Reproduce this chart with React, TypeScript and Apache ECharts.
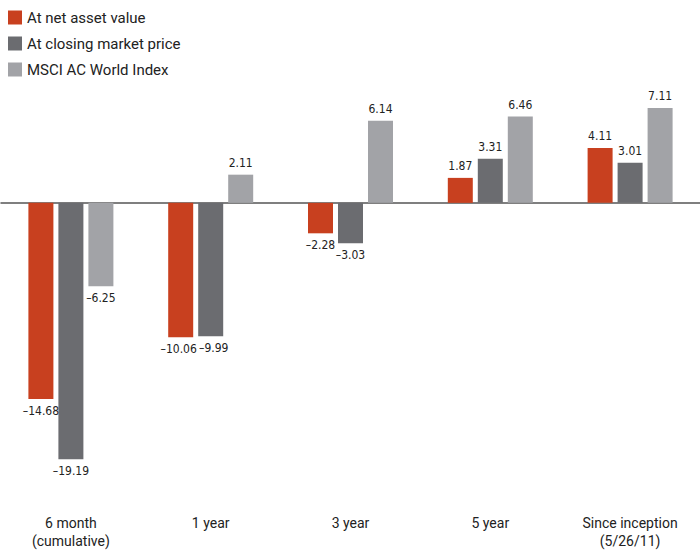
import React, { useEffect, useRef } from "react";
import * as echarts from "echarts";

const categories = ["6 month\n(cumulative)", "1 year", "3 year", "5 year", "Since inception\n(5/26/11)"];
const seriesNames = ["At net asset value", "At closing market price", "MSCI AC World Index"];
const navValues = [-14.68, -10.06, -2.28, 1.87, 4.11];
const marketValues = [-19.19, -9.99, -3.03, 3.31, 3.01];
const indexValues = [-6.25, 2.11, 6.14, 6.46, 7.11];
const colors = ["#C8401F", "#6B6C70", "#A2A3A7"];

const FONT = "Roboto";
const NARROW = "'DejaVu Sans Condensed', Roboto";

function makeSeries(name: string, values: number[], color: string, nudge: number[]) {
  return {
    name,
    type: "bar",
    xAxisIndex: 0,
    barWidth: 25,
    barGap: "20%",
    itemStyle: { color },
    data: values.map((v, i) => ({
      value: v,
      label: {
        show: true,
        position: v >= 0 ? "top" : "bottom",
        distance: 6,
        offset: [nudge[i] || 0, 0],
        color: "#222",
        fontFamily: NARROW,
        fontSize: 12,
        formatter: (p: any) => {
          const n = p.value as number;
          return (n < 0 ? "\u2013" : "") + Math.abs(n).toFixed(2);
        },
      },
    })),
  };
}

export default function App() {
  const ref = useRef<HTMLDivElement>(null);
  useEffect(() => {
    if (!ref.current) return;
    document.body.style.margin = "0";
    const chart = echarts.init(ref.current, null, { renderer: "svg" });
    chart.setOption({
      animation: false,
      backgroundColor: "#ffffff",
      legend: {
        orient: "vertical",
        left: 3,
        top: 5,
        itemWidth: 14,
        itemHeight: 14,
        itemGap: 11,
        icon: "rect",
        data: seriesNames,
        textStyle: { fontFamily: FONT, fontSize: 15, color: "#222" },
      },
      grid: { left: 1, right: 0, top: 96, height: 374 },
      xAxis: [
        {
          type: "category",
          data: categories,
          axisLine: { onZero: true, lineStyle: { color: "#555", width: 1.5 } },
          axisTick: { show: false },
          axisLabel: { show: false },
        },
        {
          type: "category",
          data: categories,
          position: "bottom",
          axisLine: { show: false },
          axisTick: { show: false },
          axisLabel: {
            show: true,
            margin: 44,
            fontFamily: FONT,
            fontSize: 14,
            lineHeight: 18,
            color: "#222",
          },
        },
      ],
      yAxis: {
        type: "value",
        min: -20,
        max: 8,
        show: false,
        splitLine: { show: false },
      },
      series: [
        makeSeries(seriesNames[0], navValues, colors[0], [0, -2, 0, 0, 0]),
        makeSeries(seriesNames[1], marketValues, colors[1], [0, 3, 0, 0, 0]),
        makeSeries(seriesNames[2], indexValues, colors[2], [0, 0, 0, 0, 0]),
      ],
    });
    return () => chart.dispose();
  }, []);
  return <div ref={ref} style={{ width: 700, height: 560 }} />;
}
